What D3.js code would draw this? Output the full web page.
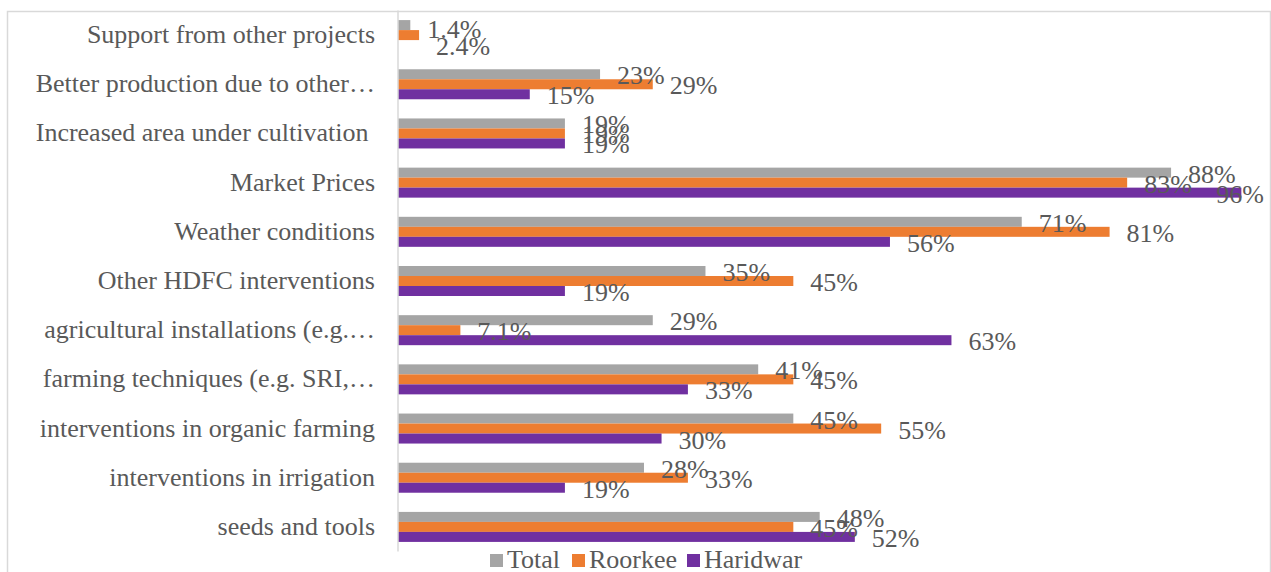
<!DOCTYPE html>
<html>
<head>
<meta charset="utf-8">
<script src="https://cdn.jsdelivr.net/npm/d3@7"></script>
<style>
  html, body { margin: 0; padding: 0; background: #fff; }
  svg { display: block; }
  text { font-family: "Liberation Serif", "DejaVu Serif", serif; fill: #595959; white-space: pre; }
</style>
</head>
<body>
<svg id="chart" width="1271" height="572"></svg>
<script>
// Factors cited for change in income, by block (percent of respondents)
const categories = [
  "Support from other projects",
  "Better production due to other\u2026",
  "Increased area under cultivation ",
  "Market Prices",
  "Weather conditions",
  "Other HDFC interventions",
  "agricultural installations (e.g.\u2026",
  "farming techniques (e.g. SRI,\u2026",
  "interventions in organic farming",
  "interventions in irrigation",
  "seeds and tools"
];
const seriesNames = ["Total", "Roorkee", "Haridwar"];
const totalValues    = [1.4, 23, 19, 88, 71, 35, 29, 41, 45, 28, 48];
const roorkeeValues  = [2.4, 29, 19, 83, 81, 45, 7.1, 45, 55, 33, 45];
const haridwarValues = [null, 15, 19, 96, 56, 19, 63, 33, 30, 19, 52];
const seriesColors = ["#a5a5a5", "#ed7d31", "#7030a0"];

const svg = d3.select("#chart");
const W = 1271, H = 572;
const FS = 26;

// chart frame
svg.append("rect")
  .attr("x", 7.5).attr("y", 11.5)
  .attr("width", W - 8).attr("height", H)
  .attr("fill", "none").attr("stroke", "#d9d9d9").attr("stroke-width", 1.5);

const x = d3.scaleLinear().domain([0, 100]).range([398, 398 + 878.5]);
const y = d3.scaleBand().domain(categories).range([10.5, 551.5])
  .paddingInner(0.39).paddingOuter(0.195);
const ySub = d3.scaleBand().domain(seriesNames).range([0, y.bandwidth()]);

const valuesBySeries = [totalValues, roorkeeValues, haridwarValues];
const rows = [];
categories.forEach((c, i) => {
  seriesNames.forEach((s, j) => {
    const v = valuesBySeries[j][i];
    if (v !== null && v !== undefined) rows.push({ category: c, series: s, si: j, value: v });
  });
});

// bars
svg.append("g").selectAll("rect")
  .data(rows)
  .join("rect")
  .attr("x", x(0))
  .attr("y", d => y(d.category) + ySub(d.series))
  .attr("width", d => x(d.value) - x(0))
  .attr("height", ySub.bandwidth())
  .attr("fill", d => seriesColors[d.si]);

// category axis (line + labels)
svg.append("line")
  .attr("x1", 398).attr("x2", 398)
  .attr("y1", 10.5).attr("y2", 551.5)
  .attr("stroke", "#d9d9d9").attr("stroke-width", 1.5);

svg.append("g").selectAll("text")
  .data(categories)
  .join("text")
  .attr("x", 375)
  .attr("y", d => y(d) + y.bandwidth() / 2 + 8)
  .attr("text-anchor", "end")
  .attr("font-size", FS)
  .text(d => d);

// value labels
const fmt = v => (v < 10 ? v.toFixed(1) : String(v)) + "%";
const nudge = { "Support from other projects|Total": 3, "Support from other projects|Roorkee": 10 };
const labels = svg.append("g").selectAll("text")
  .data(rows)
  .join("text")
  .attr("font-size", FS)
  .attr("x", d => x(d.value) + 17)
  .attr("y", d => y(d.category) + ySub(d.series) + ySub.bandwidth() / 2 + 10 +
                  (nudge[d.category + "|" + d.series] || 0))
  .text(d => fmt(d.value));
// keep labels inside the chart area
labels.each(function () {
  const bb = this.getBBox();
  if (bb.x + bb.width > W - 7) d3.select(this).attr("x", W - 7 - bb.width);
});

// legend
const legendX = [490, 572, 687];
const lg = svg.append("g").selectAll("g")
  .data(seriesNames)
  .join("g")
  .attr("transform", (d, i) => `translate(${legendX[i]},0)`);
lg.append("rect")
  .attr("x", 0).attr("y", 554).attr("width", 13).attr("height", 13)
  .attr("fill", (d, i) => seriesColors[i]);
lg.append("text")
  .attr("x", 17).attr("y", 568)
  .attr("font-size", FS)
  .text(d => d);
</script>
</body>
</html>
